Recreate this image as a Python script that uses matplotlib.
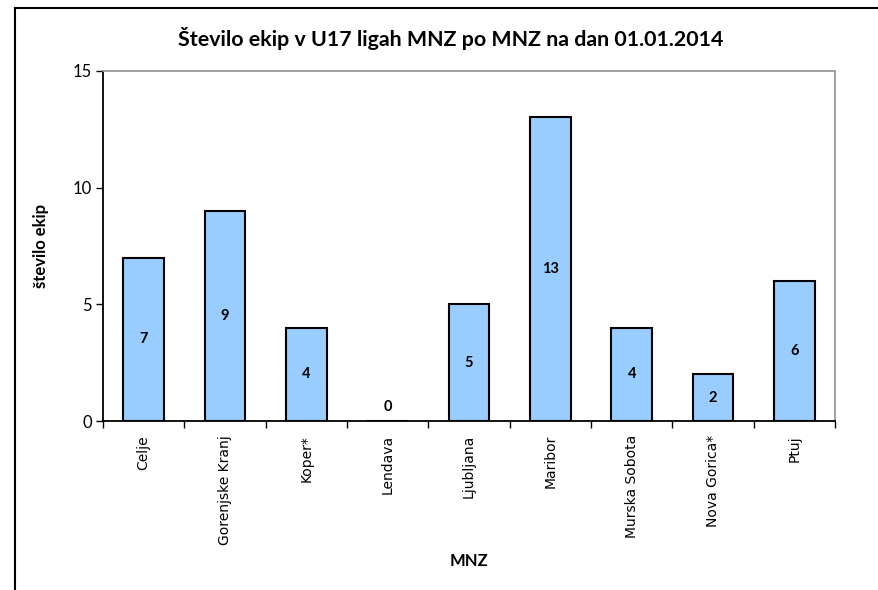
import matplotlib
matplotlib.use('Agg')
import matplotlib.pyplot as plt
from matplotlib.lines import Line2D
import numpy as np

categories = ['Celje', 'Gorenjske Kranj', 'Koper*', 'Lendava', 'Ljubljana',
              'Maribor', 'Murska Sobota', 'Nova Gorica*', 'Ptuj']
teams = [7, 9, 4, 0, 5, 13, 4, 2, 6]
yticks = [0, 5, 10, 15]

fig = plt.figure(figsize=(8.79, 5.90), dpi=100)
ax = fig.add_axes([0.1172, 0.2864, 0.8328, 0.5936])

x = np.arange(len(categories))
ax.bar(x, teams, width=0.5, color='#99CCFF', edgecolor='black', linewidth=1.5, zorder=3)

for xi, v in zip(x, teams):
    ax.text(xi, max(v / 2, 0.6), str(v), ha='center', va='center',
            fontfamily='Lato', fontweight='bold', fontsize=10.5)

ax.set_xlim(-0.5, len(categories) - 0.5)
ax.set_ylim(0, 15)
ax.set_yticks(yticks)
ax.set_yticklabels([str(t) for t in yticks], fontfamily='Lato', fontsize=12)
ax.tick_params(axis='y', direction='out', length=5, width=1, pad=3)

# category labels centred, tick marks on boundaries
ax.set_xticks(x)
ax.set_xticklabels(categories, rotation=90, fontfamily='DejaVu Sans', fontsize=10)
ax.tick_params(axis='x', which='major', length=0, pad=10)
ax.set_xticks(np.arange(-0.5, len(categories)), minor=True)
ax.tick_params(axis='x', which='minor', direction='out', length=5, width=1)

ax.spines['left'].set_color('black')
ax.spines['bottom'].set_color('black')
ax.spines['top'].set_color('#999999')
ax.spines['right'].set_color('#999999')
for s in ax.spines.values():
    s.set_linewidth(1.3)
ax.spines['bottom'].set_zorder(4)

ax.set_ylabel('število ekip', fontfamily='Lato', fontweight='bold', fontsize=12, labelpad=17)
ax.set_xlabel('MNZ', fontfamily='Lato', fontweight='bold', fontsize=12, labelpad=6)

fig.text(0.513, 0.934, 'Število ekip v U17 ligah MNZ po MNZ na dan 01.01.2014',
         ha='center', va='center', fontfamily='Lato', fontweight='bold', fontsize=15.4)

# chart area frame (left and top edges visible)
fig.add_artist(Line2D([15 / 879, 15 / 879], [0, 1 - 8 / 590], transform=fig.transFigure,
                      color='black', linewidth=1.5))
fig.add_artist(Line2D([15 / 879, 1], [1 - 8 / 590, 1 - 8 / 590], transform=fig.transFigure,
                      color='black', linewidth=1.5))

fig.savefig('out.png', dpi=100)
